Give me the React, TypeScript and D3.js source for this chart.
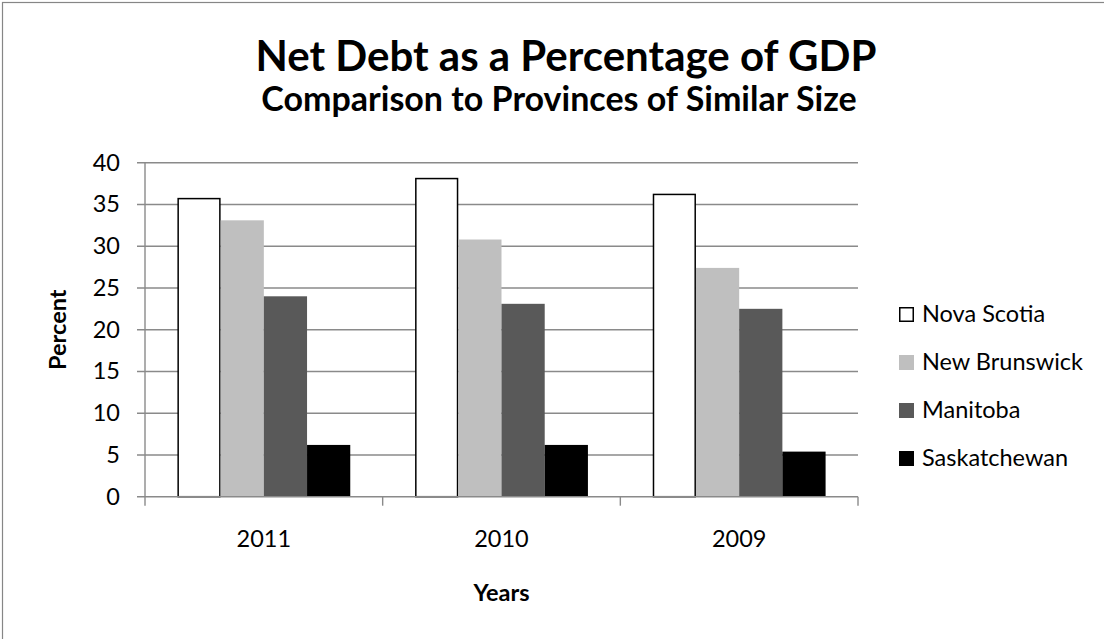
import React from 'react';
import * as d3 from 'd3';

const years = ['2011', '2010', '2009'];
const seriesNames = ['Nova Scotia', 'New Brunswick', 'Manitoba', 'Saskatchewan'];
const novaScotia = [35.7, 38.1, 36.2];
const newBrunswick = [33.1, 30.8, 27.4];
const manitoba = [24.0, 23.1, 22.5];
const saskatchewan = [6.2, 6.2, 5.4];
const yTicks = [0, 5, 10, 15, 20, 25, 30, 35, 40];
const fills = ['#FFFFFF', '#BFBFBF', '#595959', '#000000'];

const FONT = "Lato, 'Open Sans', sans-serif";
const GRID = '#8a8a8a';

export default function App() {
  const W = 1104, H = 639;
  const left = 145, right = 858, top = 162.7, bottom = 496.7;
  const x = d3.scaleBand<string>().domain(years).range([left, right]).paddingInner(0).paddingOuter(0);
  const bw = x.bandwidth();
  const barW = bw / 5.5;
  const xs = d3.scaleBand<string>().domain(seriesNames).range([barW * 0.75, bw - barW * 0.75]).padding(0);
  const y = d3.scaleLinear().domain([0, 40]).range([bottom, top]);
  const series = [novaScotia, newBrunswick, manitoba, saskatchewan];
  const boundaries = [...years.map((yr) => x(yr) as number), right];

  return (
    <svg width={W} height={H} style={{ position: 'absolute', left: 0, top: 0, background: '#fff' }} fontFamily={FONT}>
      <rect x={0} y={0} width={W} height={H} fill="#fff" />
      <rect x={2.5} y={2.5} width={1128} height={700} fill="none" stroke="#868686" strokeWidth={1.2} />
      <text x={566} y={71} textAnchor="middle" fontSize={42} fontWeight={700} fill="#000">Net Debt as a Percentage of GDP</text>
      <text x={559} y={111} textAnchor="middle" fontSize={34} fontWeight={700} fill="#000">Comparison to Provinces of Similar Size</text>

      {/* gridlines */}
      {yTicks.filter((t) => t > 0).map((t) => (
        <line key={'g' + t} x1={left - 8} x2={right} y1={y(t)} y2={y(t)} stroke={GRID} strokeWidth={1.4} />
      ))}

      {/* bars */}
      {years.map((yr, i) => (
        <g key={yr} transform={`translate(${x(yr)},0)`}>
          {series.map((s, j) => (
            <rect
              key={j}
              x={(xs(seriesNames[j]) as number) + (j === 0 ? 0.75 : 0)}
              y={y(s[i])}
              width={xs.bandwidth() - (j === 0 ? 1.5 : 0)}
              height={bottom - y(s[i])}
              fill={fills[j]}
              stroke={j === 0 ? '#000' : 'none'}
              strokeWidth={j === 0 ? 1.5 : 0}
            />
          ))}
        </g>
      ))}

      {/* axes */}
      <line x1={left} x2={left} y1={top} y2={bottom} stroke={GRID} strokeWidth={1.4} />
      <line x1={left - 8} x2={right} y1={bottom} y2={bottom} stroke={GRID} strokeWidth={1.4} />
      {boundaries.map((b, i) => (
        <line key={'t' + i} x1={b} x2={b} y1={bottom} y2={bottom + 9} stroke={GRID} strokeWidth={1.4} />
      ))}

      {/* y tick labels */}
      {yTicks.map((t) => (
        <text key={'l' + t} x={120} y={y(t) + 8} textAnchor="end" fontSize={23.5} fill="#000">{t}</text>
      ))}
      {/* x tick labels */}
      {years.map((yr) => (
        <text key={'x' + yr} x={(x(yr) as number) + bw / 2} y={547} textAnchor="middle" fontSize={23.5} fill="#000">{yr}</text>
      ))}

      {/* axis titles */}
      <text x={(left + right) / 2} y={601} textAnchor="middle" fontSize={23.5} fontWeight={700} fill="#000">Years</text>
      <text transform={`translate(66,${(top + bottom) / 2}) rotate(-90)`} textAnchor="middle" fontSize={23.5} fontWeight={700} fill="#000">Percent</text>

      {/* legend */}
      {seriesNames.map((n, j) => (
        <g key={'lg' + n} transform={`translate(899,${322 + j * 48})`}>
          <rect x={j === 0 ? 0.75 : 0} y={j === 0 ? -14.25 : -15} width={j === 0 ? 13.5 : 15} height={j === 0 ? 13.5 : 15} fill={fills[j]} stroke={j === 0 ? '#000' : 'none'} strokeWidth={1.5} />
          <text x={23} y={0} fontSize={23.5} fill="#000">{n}</text>
        </g>
      ))}
    </svg>
  );
}
